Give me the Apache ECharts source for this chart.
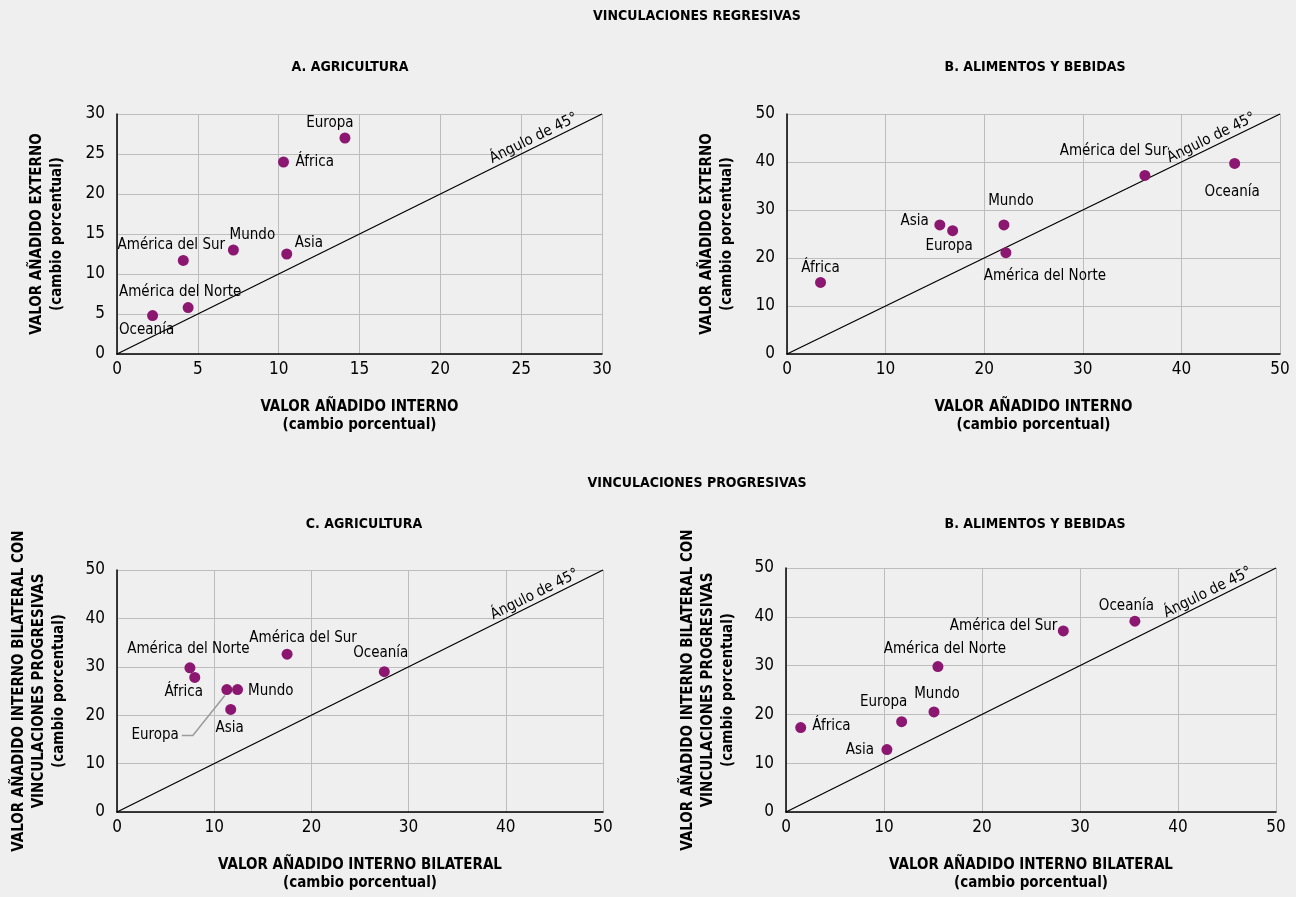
<!DOCTYPE html>
<html>
<head>
<meta charset="utf-8">
<script src="https://cdn.jsdelivr.net/npm/echarts@6/dist/echarts.min.js"></script>
<style>
  html, body { margin: 0; padding: 0; background: #efefef; }
  #chart { width: 1296px; height: 897px; }
</style>
</head>
<body>
<div id="chart"></div>
<script>
// Regions shown in every panel
const regions = ['Europa', 'África', 'Mundo', 'Asia', 'América del Sur', 'América del Norte', 'Oceanía'];

// A. Agricultura – vinculaciones regresivas (interno vs externo)
const agriBackX = [14.1, 10.3, 7.2, 10.5, 4.1, 4.4, 2.2];
const agriBackY = [27.0, 24.0, 13.0, 12.5, 11.7, 5.8, 4.8];

// B. Alimentos y bebidas – vinculaciones regresivas
const foodBackX = [16.8, 3.4, 22.0, 15.5, 36.3, 22.2, 45.4];
const foodBackY = [25.7, 14.9, 26.9, 26.9, 37.2, 21.1, 39.7];

// C. Agricultura – vinculaciones progresivas (bilateral)
const agriFwdX = [11.3, 8.0, 12.4, 11.7, 17.5, 7.5, 27.5];
const agriFwdY = [25.3, 27.8, 25.3, 21.2, 32.6, 29.8, 29.0];

// B. Alimentos y bebidas – vinculaciones progresivas (bilateral)
const foodFwdX = [11.8, 1.5, 15.1, 10.3, 28.3, 15.5, 35.6];
const foodFwdY = [18.5, 17.3, 20.5, 12.8, 37.1, 29.8, 39.1];

// Axis ranges and tick steps
const axisMaxA = 30, axisStepA = 5;
const axisMaxOther = 50, axisStepOther = 10;

// Text
const mainTitleBack = 'VINCULACIONES REGRESIVAS';
const mainTitleFwd = 'VINCULACIONES PROGRESIVAS';
const panelTitles = ['A. AGRICULTURA', 'B. ALIMENTOS Y BEBIDAS', 'C. AGRICULTURA', 'B. ALIMENTOS Y BEBIDAS'];
const xNameBack = 'VALOR AÑADIDO INTERNO\n(cambio porcentual)';
const yNameBack = 'VALOR AÑADIDO EXTERNO\n(cambio porcentual)';
const xNameFwd = 'VALOR AÑADIDO INTERNO BILATERAL\n(cambio porcentual)';
const yNameFwd = 'VALOR AÑADIDO INTERNO BILATERAL CON\nVINCULACIONES PROGRESIVAS\n(cambio porcentual)';
const diagLabel = 'Ángulo de 45°';

// Label placement per panel: [align, dx, dy] in pixels from the marker
const labelPlacement = [
  {
    'Europa': ['center', -15, -15], 'África': ['left', 12, 0], 'Mundo': ['center', 19, -15],
    'Asia': ['left', 8, -11], 'América del Sur': ['center', -12, -15],
    'América del Norte': ['center', -8, -15.5], 'Oceanía': ['center', -6, 14.5]
  },
  {
    'Europa': ['center', -3.5, 15], 'África': ['center', 0, -14.5], 'Mundo': ['center', 7, -23.5],
    'Asia': ['right', -11, -3.5], 'América del Sur': ['center', -31.5, -24],
    'América del Norte': ['center', 39, 23], 'Oceanía': ['center', -2.5, 28.5]
  },
  {
    'Europa': ['right', -48, 46], 'África': ['center', -11, 14.5], 'Mundo': ['left', 10.5, 1.5],
    'Asia': ['center', -1, 19], 'América del Sur': ['center', 16, -16.5],
    'América del Norte': ['center', -1.5, -18.5], 'Oceanía': ['center', -3.5, -18.5]
  },
  {
    'Europa': ['center', -18, -20], 'África': ['left', 11.5, -1.5], 'Mundo': ['center', 3, -17.5],
    'Asia': ['right', -13, 0.5], 'América del Sur': ['right', -6, -5],
    'América del Norte': ['center', 7, -17], 'Oceanía': ['center', -8.5, -15]
  }
];

const FONT = '"Liberation Sans Narrow", "DejaVu Sans Condensed", sans-serif';
const POINT_COLOR = '#8c1770';
const GRID_COLOR = '#bdbdbd';
const TEXT_COLOR = '#000000';

const grids = [
  { left: 117, top: 114, width: 485, height: 240 },
  { left: 787, top: 114, width: 493, height: 240 },
  { left: 117, top: 570, width: 486, height: 242 },
  { left: 786, top: 568, width: 490, height: 244 }
];

const panels = [
  { xs: agriBackX, ys: agriBackY, max: axisMaxA, step: axisStepA, xName: xNameBack, yName: yNameBack },
  { xs: foodBackX, ys: foodBackY, max: axisMaxOther, step: axisStepOther, xName: xNameBack, yName: yNameBack },
  { xs: agriFwdX, ys: agriFwdY, max: axisMaxOther, step: axisStepOther, xName: xNameFwd, yName: yNameFwd },
  { xs: foodFwdX, ys: foodFwdY, max: axisMaxOther, step: axisStepOther, xName: xNameFwd, yName: yNameFwd }
];

function makeAxis(p, i, isY) {
  const three = isY && p.yName.split('\n').length === 3;
  return {
    type: 'value',
    gridIndex: i,
    min: 0,
    max: p.max,
    interval: p.step,
    name: isY ? p.yName : p.xName,
    nameLocation: 'middle',
    nameGap: isY ? (three ? 48 : 50) : 44,
    nameTextStyle: {
      fontFamily: FONT, fontWeight: 'bold', fontSize: 15, color: TEXT_COLOR,
      lineHeight: isY ? 20 : 18, align: 'center'
    },
    axisLine: { show: true, onZero: false, lineStyle: { color: '#000', width: 1.5 } },
    axisTick: { show: false },
    axisLabel: {
      fontFamily: FONT, fontSize: 17, color: TEXT_COLOR,
      margin: isY ? 12 : 7
    },
    splitLine: { show: true, lineStyle: { color: GRID_COLOR, width: 1 } }
  };
}

const xAxes = panels.map((p, i) => makeAxis(p, i, false));
const yAxes = panels.map((p, i) => makeAxis(p, i, true));

const series = panels.map((p, i) => ({
  type: 'scatter',
  xAxisIndex: i, yAxisIndex: i,
  symbolSize: 11,
  itemStyle: { color: POINT_COLOR, opacity: 1 },
  z: 5,
  // 45-degree reference line across the full axis range
  markLine: {
    silent: true,
    symbol: 'none',
    z: 3,
    lineStyle: { color: '#000', width: 1.3, type: 'solid' },
    emphasis: { disabled: true },
    data: [[{ coord: [0, 0] }, { coord: [p.max, p.max] }]],
    label: {
      show: true,
      position: 'insideEndTop',
      formatter: diagLabel,
      fontFamily: FONT, fontSize: 15, color: TEXT_COLOR,
      distance: [24, 1]
    }
  },
  data: regions.map((name, k) => {
    const pl = labelPlacement[i][name];
    return {
      name: name,
      value: [p.xs[k], p.ys[k]],
      label: {
        show: true,
        position: 'inside',
        formatter: name,
        align: pl[0],
        verticalAlign: 'middle',
        offset: [pl[1], pl[2]],
        fontFamily: FONT, fontSize: 15, color: TEXT_COLOR
      }
    };
  })
}));

const titles = [
  { text: mainTitleBack, left: 697, top: 9 },
  { text: panelTitles[0], left: 350, top: 60 },
  { text: panelTitles[1], left: 1035, top: 60 },
  { text: mainTitleFwd, left: 697, top: 476 },
  { text: panelTitles[2], left: 364, top: 517 },
  { text: panelTitles[3], left: 1035, top: 517 }
].map(t => ({
  text: t.text, left: t.left, top: t.top, textAlign: 'center', padding: 0,
  textStyle: { fontFamily: FONT, fontWeight: 'bold', fontSize: 14, color: TEXT_COLOR }
}));

const chart = echarts.init(document.getElementById('chart'), null, { renderer: 'canvas' });
chart.setOption({
  backgroundColor: '#efefef',
  animation: false,
  title: titles,
  grid: grids,
  xAxis: xAxes,
  yAxis: yAxes,
  series: series
});

// Leader line joining the "Europa" label to its marker in panel C
(function () {
  const k = regions.indexOf('Europa');
  const pt = chart.convertToPixel({ gridIndex: 2 }, [agriFwdX[k], agriFwdY[k]]);
  const pl = labelPlacement[2]['Europa'];
  const lx = pt[0] + pl[1] + 3, ly = pt[1] + pl[2];
  chart.setOption({
    graphic: [{
      type: 'polyline',
      z: 4,
      shape: { points: [[pt[0] - 2, pt[1] + 6], [lx + 11, ly], [lx, ly]] },
      style: { stroke: '#9a9a9a', lineWidth: 1.5, fill: null }
    }]
  });
})();
</script>
</body>
</html>
